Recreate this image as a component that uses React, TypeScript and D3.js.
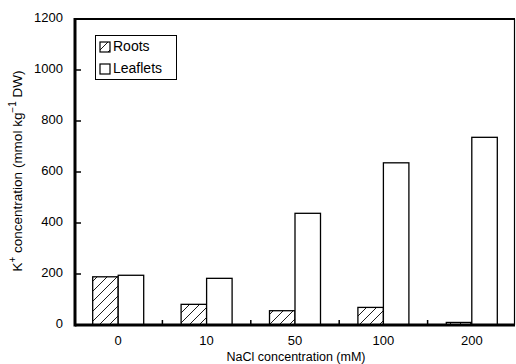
import { useEffect, useRef } from 'react';
import * as d3 from 'd3';

const categories = ['0', '10', '50', '100', '200'];
const rootsValues = [189, 81, 56, 69, 10];
const leafletsValues = [195, 183, 438, 636, 736];
const yTickValues = [0, 200, 400, 600, 800, 1000, 1200];

export default function App() {
  const svgRef = useRef<SVGSVGElement>(null);

  useEffect(() => {
    if (!svgRef.current) return;
    const svg = d3.select(svgRef.current);
    svg.selectAll('*').remove();

    const width = 516;
    const height = 364;
    const margin = { top: 19, right: 1, bottom: 39, left: 75 };
    const innerWidth = width - margin.left - margin.right;
    const innerHeight = height - margin.top - margin.bottom;
    const font = 'Arial, "Liberation Sans", sans-serif';

    const defs = svg.append('defs');
    const pattern = defs.append('pattern')
      .attr('id', 'hatch')
      .attr('patternUnits', 'userSpaceOnUse')
      .attr('width', 10)
      .attr('height', 10);
    pattern.append('rect').attr('width', 10).attr('height', 10).attr('fill', '#fff');
    pattern.append('path')
      .attr('d', 'M-2,2 L2,-2 M0,10 L10,0 M8,12 L12,8')
      .attr('stroke', '#000')
      .attr('stroke-width', 0.9);

    const g = svg.append('g').attr('transform', `translate(${margin.left},${margin.top})`);

    const x = d3.scaleBand<string>()
      .domain(categories)
      .range([-1, innerWidth + 1])
      .paddingInner(0)
      .paddingOuter(0);

    const y = d3.scaleLinear().domain([0, 1200]).range([innerHeight, 0]);

    const barW = 25.5;

    // frame
    g.append('line').attr('x1', 0).attr('x2', innerWidth).attr('y1', 0).attr('y2', 0)
      .attr('stroke', '#000').attr('stroke-width', 2);
    g.append('line').attr('x1', innerWidth - 0.5).attr('x2', innerWidth - 0.5).attr('y1', 0).attr('y2', innerHeight)
      .attr('stroke', '#000').attr('stroke-width', 1.2);

    // bars
    categories.forEach((c, i) => {
      const cx = (x(c) ?? 0) + x.bandwidth() / 2;
      g.append('rect')
        .attr('x', cx - barW)
        .attr('y', y(rootsValues[i]))
        .attr('width', barW)
        .attr('height', innerHeight - y(rootsValues[i]))
        .attr('fill', 'url(#hatch)')
        .attr('stroke', '#000')
        .attr('stroke-width', 1.3);
      g.append('rect')
        .attr('x', cx)
        .attr('y', y(leafletsValues[i]))
        .attr('width', barW)
        .attr('height', innerHeight - y(leafletsValues[i]))
        .attr('fill', '#fff')
        .attr('stroke', '#000')
        .attr('stroke-width', 1.3);
    });

    // x ticks between categories (inside)
    categories.slice(1).forEach(c => {
      const bx = x(c) ?? 0;
      g.append('line').attr('x1', bx).attr('x2', bx).attr('y1', innerHeight).attr('y2', innerHeight - 5)
        .attr('stroke', '#000').attr('stroke-width', 1.5);
    });

    // y ticks
    yTickValues.forEach(v => {
      g.append('line').attr('x1', 0).attr('x2', 6).attr('y1', y(v)).attr('y2', y(v))
        .attr('stroke', '#000').attr('stroke-width', 1.5);
      g.append('text')
        .attr('x', -12)
        .attr('y', y(v))
        .attr('text-anchor', 'end')
        .attr('dominant-baseline', 'middle')
        .attr('font-family', font)
        .attr('font-size', 13)
        .attr('fill', '#000')
        .text(v);
    });

    // axes
    g.append('line').attr('x1', 0).attr('x2', innerWidth).attr('y1', innerHeight).attr('y2', innerHeight)
      .attr('stroke', '#000').attr('stroke-width', 3);
    g.append('line').attr('x1', 0).attr('x2', 0).attr('y1', -1).attr('y2', innerHeight + 1.5)
      .attr('stroke', '#000').attr('stroke-width', 3);

    // x labels
    categories.forEach(c => {
      g.append('text')
        .attr('x', (x(c) ?? 0) + x.bandwidth() / 2)
        .attr('y', innerHeight + 20)
        .attr('text-anchor', 'middle')
        .attr('font-family', font)
        .attr('font-size', 13)
        .attr('fill', '#000')
        .text(c);
    });

    // axis titles
    svg.append('text')
      .attr('x', 296)
      .attr('y', 361)
      .attr('text-anchor', 'middle')
      .attr('font-family', font)
      .attr('font-size', 12.5)
      .attr('fill', '#000')
      .text('NaCl concentration (mM)');

    const yt = svg.append('text')
      .attr('transform', 'translate(22,171) rotate(-90)')
      .attr('text-anchor', 'middle')
      .attr('font-family', font)
      .attr('font-size', 13.5)
      .attr('fill', '#000');
    yt.append('tspan').text('K');
    yt.append('tspan').attr('dy', -6).attr('font-size', 10).text('+');
    yt.append('tspan').attr('dy', 6).text(' concentration (mmol kg');
    yt.append('tspan').attr('dy', -6).attr('font-size', 10).text('−1');
    yt.append('tspan').attr('dy', 6).text(' DW)');

    // legend
    const lg = svg.append('g').attr('transform', 'translate(95,35)');
    lg.append('rect').attr('x', 0.5).attr('y', 0.5).attr('width', 81).attr('height', 44)
      .attr('fill', '#fff').attr('stroke', '#000').attr('stroke-width', 1);
    const items = [
      { label: 'Roots', fill: 'url(#hatch)' },
      { label: 'Leaflets', fill: '#fff' },
    ];
    items.forEach((it, i) => {
      const yy = 12 + i * 22;
      lg.append('rect').attr('x', 5).attr('y', yy - 5).attr('width', 10).attr('height', 10)
        .attr('fill', it.fill).attr('stroke', '#000').attr('stroke-width', 1.2);
      lg.append('text')
        .attr('x', 18)
        .attr('y', yy)
        .attr('dominant-baseline', 'middle')
        .attr('font-family', font)
        .attr('font-size', 14)
        .attr('fill', '#000')
        .text(it.label);
    });
  }, []);

  return (
    <svg
      ref={svgRef}
      width={516}
      height={364}
      style={{ display: 'block', position: 'absolute', left: 0, top: 0, background: '#fff' }}
    />
  );
}
